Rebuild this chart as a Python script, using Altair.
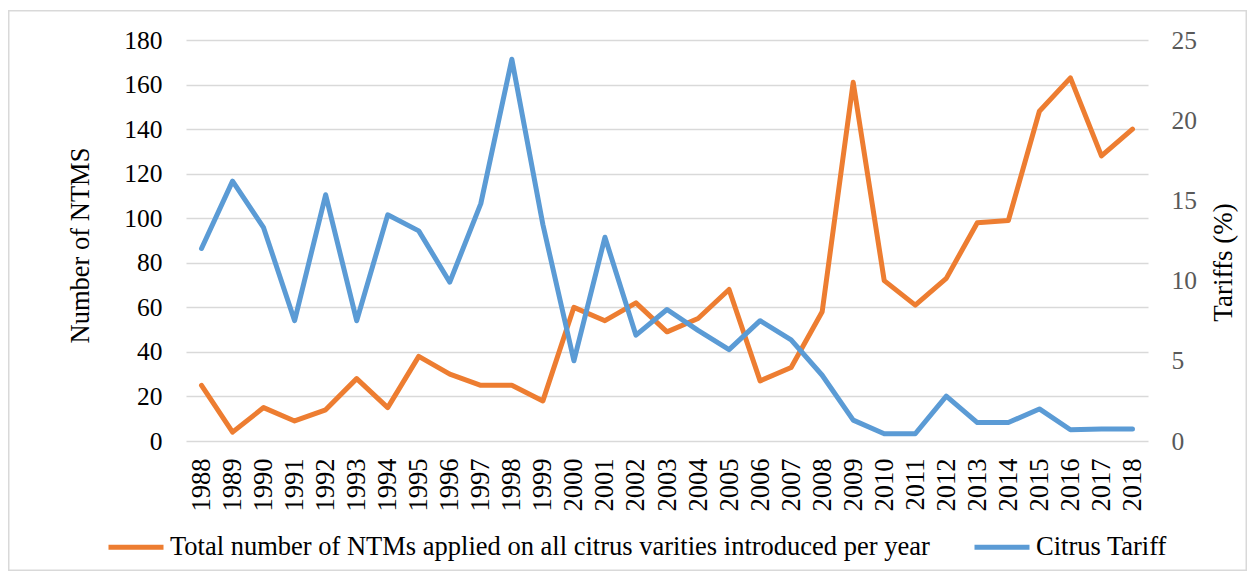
import altair as alt
import pandas as pd

years = [str(y) for y in range(1988, 2019)]
ntms = [25, 4, 15, 9, 14, 28, 15, 38, 30, 25, 25, 18, 60, 54, 62, 49, 55, 68,
        27, 33, 58, 161, 72, 61, 73, 98, 99, 148, 163, 128, 140]
tariff = [12.0, 16.2, 13.3, 7.5, 15.35, 7.5, 14.1, 13.1, 9.9, 14.8, 23.8, 13.5,
          5.0, 12.7, 6.6, 8.2, 6.9, 5.7, 7.5, 6.3, 4.1, 1.3, 0.45, 0.45, 2.8,
          1.15, 1.15, 2.0, 0.7, 0.75, 0.75]
ntm_label = "Total number of NTMs applied on all citrus varities introduced per year"
tariff_label = "Citrus Tariff"
left_ticks = list(range(0, 181, 20))
right_ticks = list(range(0, 26, 5))

df_ntm = pd.DataFrame({"year": years, "value": ntms, "series": ntm_label})
df_tar = pd.DataFrame({"year": years, "value": tariff, "series": tariff_label})

FONT = "Liberation Serif"
ORANGE = "#ED7D31"
BLUE = "#5B9BD5"

color = alt.Color(
    "series:N",
    title=None,
    scale=alt.Scale(domain=[ntm_label, tariff_label], range=[ORANGE, BLUE]),
    legend=alt.Legend(
        orient="none", legendX=-80, legendY=477, direction="horizontal",
        symbolType="stroke", symbolSize=3025, symbolStrokeWidth=5,
        labelFont=FONT, labelFontSize=26.5, labelColor="#000000", labelLimit=2000,
        labelOffset=4, columnPadding=34, padding=0,
    ),
)

x = alt.X(
    "year:O", sort=years, title=None,
    scale=alt.Scale(padding=0.5),
    axis=alt.Axis(labelAngle=270, labelAlign="right", labelBaseline="middle",
                  labelPadding=17, ticks=False, domain=False, grid=False,
                  labelFont=FONT, labelFontSize=26.5, labelColor="#000000"),
)

line_style = dict(strokeWidth=5, strokeCap="round", strokeJoin="round")

left = alt.Chart(df_ntm).mark_line(**line_style).encode(
    x=x,
    y=alt.Y("value:Q", scale=alt.Scale(domain=[0, 180], nice=False),
            axis=alt.Axis(values=left_ticks, title="Number of NTMS", orient="left",
                          ticks=False, domain=False, grid=True, gridColor="#D9D9D9",
                          gridWidth=1.3, labelPadding=24, labelFont=FONT,
                          labelFontSize=25.5, labelColor="#000000", titleFont=FONT,
                          titleFontSize=26.5, titleFontWeight="normal",
                          titleColor="#000000", titleAngle=270, titleX=-98,
                          titleY=205, titleBaseline="alphabetic", titleAlign="center")),
    color=color,
)

right = alt.Chart(df_tar).mark_line(**line_style).encode(
    x=x,
    y=alt.Y("value:Q", scale=alt.Scale(domain=[0, 25], nice=False),
            axis=alt.Axis(values=right_ticks, title="Tariffs (%)", orient="right",
                          ticks=False, domain=False, grid=False, labelPadding=23,
                          labelFont=FONT, labelFontSize=25.5, labelColor="#595959",
                          titleFont=FONT, titleFontSize=27, titleFontWeight="normal",
                          titleColor="#000000", titleAngle=270, titleX=83,
                          titleY=222, titleBaseline="alphabetic", titleAlign="center")),
    color=color,
)

frame = alt.Chart(pd.DataFrame({"f": [0]})).mark_rect(
    fillOpacity=0, stroke="#D9D9D9", strokeWidth=1.5
).encode(
    x=alt.value(-177.25), x2=alt.value(1060.25),
    y=alt.value(-29.25), y2=alt.value(530.25),
)

chart = alt.layer(frame, left, right).resolve_scale(y="independent").properties(
    width=962, height=401,
    autosize=alt.AutoSizeParams(type="none"),
    padding={"left": 178, "top": 32, "right": 99, "bottom": 130},
    background="#FFFFFF",
).configure_view(stroke="transparent")

chart.save("out.html", embed_options={"renderer": "svg", "actions": False})
